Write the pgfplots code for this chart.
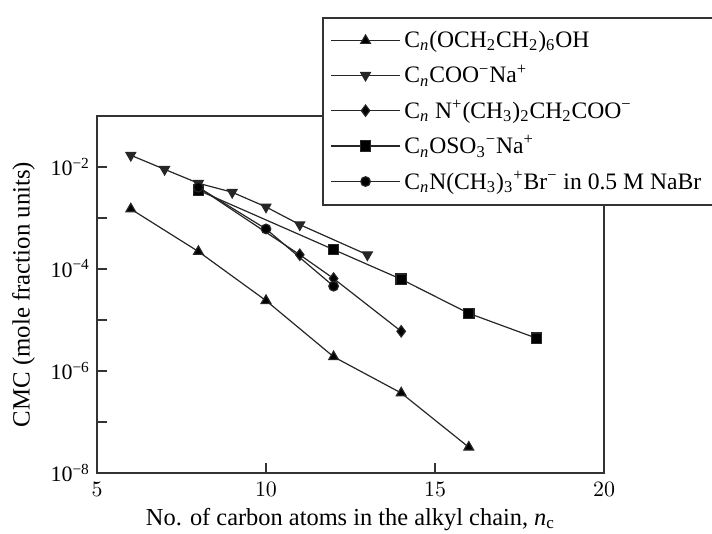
\documentclass[border=0pt]{standalone}
\usepackage{pgfplots}
\pgfplotsset{compat=1.18}
\usepackage{fontspec}
\setmainfont{Liberation Serif}

\newcommand{\sub}[1]{\textsubscript{#1}}
\newcommand{\sups}[1]{\textsuperscript{#1}}

\begin{document}
\begin{tikzpicture}
\begin{axis}[
  scale only axis,
  width=253.5pt, height=178.5pt,
  xmin=5, xmax=20,
  ymode=log, ymin=1e-8, ymax=1e-1,
  xtick={5,10,15,20},
  ytick={1e-8,1e-7,1e-6,1e-5,1e-4,1e-3,1e-2},
  yticklabels={10\sups{−8},{},10\sups{−6},{},10\sups{−4},{},10\sups{−2}},
  yminorticks=false,
  tick pos=left,
  tick align=inside,
  major tick length=5pt,
  axis line style={line width=0.8pt, black!80},
  every tick/.style={black!80, line width=0.6pt},
  tick label style={font=\fontsize{11}{12}\selectfont},
  xticklabel style={yshift=-1pt},
  xlabel={No. of carbon atoms in the alkyl chain, \textit{n}\sub{c}},
  ylabel={CMC (mole fraction units)},
  xlabel style={font=\fontsize{12.2}{14}\selectfont, yshift=1pt},
  ylabel style={font=\fontsize{12.4}{14}\selectfont, yshift=1pt},
  legend cell align=left,
  legend style={
    at={(rel axis cs:0.4438,1.277)}, anchor=north west,
    draw=black!80, line width=0.8pt, fill=white,
    font=\fontsize{11.8}{13}\selectfont,
    row sep=3.2pt, inner xsep=4pt, inner ysep=4.5pt,
  },
  legend image code/.code={
    \draw[mark repeat=2, mark phase=2, line width=0.6pt]
      plot coordinates {(0cm,0cm) (0.6cm,0cm) (1.2cm,0cm)};
  },
  every axis plot/.append style={black!85, line width=0.6pt, mark options={solid, fill=black}},
]

% C_n(OCH2CH2)6OH
\addplot[mark=triangle*, mark size=2.8pt] coordinates {
  (6,1.5e-3) (8,2.2e-4) (10,2.4e-5) (12,1.9e-6) (14,3.7e-7) (16,3.2e-8)
};
\addlegendentry{C\sub{\textit{n}}(OCH\sub{2}CH\sub{2})\sub{6}OH}

% C_nCOO- Na+
\addplot[mark=triangle*, mark size=2.8pt, mark options={rotate=180}] coordinates {
  (6,1.7e-2) (7,9.0e-3) (8,4.8e-3) (9,3.2e-3) (10,1.65e-3) (11,7.4e-4) (13,1.9e-4)
};
\addlegendentry{C\sub{\textit{n}}COO\sups{−}Na\sups{+}}

% C_n N+(CH3)2CH2COO-
\addplot[mark=diamond*, mark size=2.8pt] coordinates {
  (8,4.0e-3) (11,1.9e-4) (12,6.5e-5) (14,6.0e-6)
};
\addlegendentry{C\sub{\textit{n}} N\sups{+}(CH\sub{3})\sub{2}CH\sub{2}COO\sups{−}}

% C_nOSO3- Na+
\addplot[mark=square*, mark size=2.6pt] coordinates {
  (8,3.5e-3) (12,2.4e-4) (14,6.3e-5) (16,1.35e-5) (18,4.4e-6)
};
\addlegendentry{C\sub{\textit{n}}OSO\sub{3}\sups{−}Na\sups{+}}

% C_nN(CH3)3+ Br- in 0.5 M NaBr
\addplot[mark=*, mark size=2.4pt] coordinates {
  (8,4.0e-3) (10,6.1e-4) (12,4.6e-5)
};
\addlegendentry{C\sub{\textit{n}}N(CH\sub{3})\sub{3}\sups{+}Br\sups{−} in 0.5 M NaBr}

\end{axis}
\pgfresetboundingbox
\path[use as bounding box] ([shift={(-48.5pt,-30.5pt)}]current axis.south west)
  rectangle ([shift={(54pt,58pt)}]current axis.north east);
\end{tikzpicture}
\end{document}
